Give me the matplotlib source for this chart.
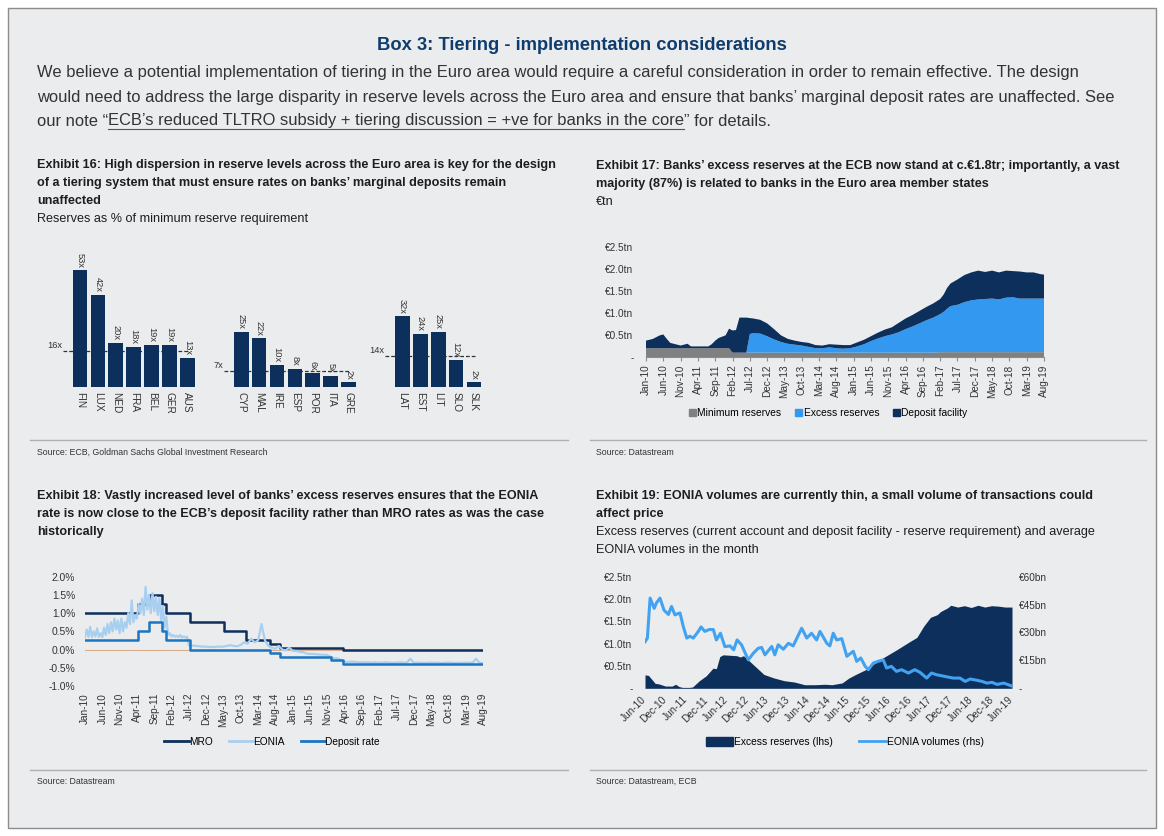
import numpy as np
import matplotlib
matplotlib.use("Agg")
import matplotlib.pyplot as plt
from matplotlib import font_manager as fm
from matplotlib.patches import Rectangle, Patch
from matplotlib.lines import Line2D

W, H = 1164, 836

# ---------------- data ----------------
ex16_groups = [["FIN", "LUX", "NED", "FRA", "BEL", "GER", "AUS"],
               ["CYP", "MAL", "IRE", "ESP", "POR", "ITA", "GRE"],
               ["LAT", "EST", "LIT", "SLO", "SLK"]]
ex16_values = [[53, 42, 20, 18, 19, 19, 13],
               [25, 22, 10, 8, 6, 5, 2],
               [32, 24, 25, 12, 2]]
ex16_averages = [16, 7, 14]

ex17_dates = ["2010-01", "2010-03", "2010-05", "2010-06", "2010-07", "2010-08", "2010-10", "2010-11",
              "2011-01", "2011-02", "2011-07", "2011-08", "2011-09", "2011-10", "2011-11", "2011-12",
              "2012-01", "2012-02", "2012-03", "2012-04", "2012-06", "2012-07", "2012-08", "2012-10",
              "2012-12", "2013-02", "2013-04", "2013-06", "2013-08", "2013-10", "2013-12", "2014-02",
              "2014-04", "2014-06", "2014-08", "2014-10", "2014-12", "2015-02", "2015-04", "2015-06",
              "2015-08", "2015-10", "2015-12", "2016-02", "2016-04", "2016-06", "2016-08", "2016-10",
              "2016-12", "2017-02", "2017-03", "2017-04", "2017-05", "2017-07", "2017-09", "2017-11",
              "2018-01", "2018-03", "2018-05", "2018-07", "2018-09", "2018-11", "2019-01", "2019-03",
              "2019-05", "2019-07", "2019-08"]
ex17_min_reserves = [.21, .21, .21, .21, .21, .21, .21, .21,
                     .21, .21, .21, .21, .21, .21, .21, .21,
                     .21, .11, .11, .11, .11, .11, .11, .11,
                     .11, .11, .11, .11, .11, .11, .11, .11,
                     .11, .11, .11, .11, .11, .11, .11, .11,
                     .11, .11, .11, .11, .11, .11, .11, .11,
                     .11, .12, .12, .12, .12, .12, .12, .12,
                     .12, .12, .12, .12, .12, .12, .12, .12,
                     .12, .12, .12]
ex17_excess = [0, 0, 0, 0, 0, 0, 0, 0,
               0, 0, 0, 0, 0, 0, 0, 0,
               0, 0, 0, 0, 0, .42, .44, .43,
               .37, .30, .24, .20, .18, .16, .13, .10,
               .10, .12, .10, .09, .10, .14, .19, .26,
               .32, .37, .41, .46, .53, .59, .66, .73,
               .79, .86, .91, .98, 1.04, 1.07, 1.13, 1.17,
               1.19, 1.20, 1.21, 1.19, 1.23, 1.24, 1.21, 1.21,
               1.21, 1.21, 1.21]
ex17_deposit = [.17, .21, .29, .31, .21, .12, .08, .06,
                .10, .04, .04, .09, .17, .23, .26, .29,
                .44, .50, .51, .79, .79, .36, .33, .31,
                .29, .23, .15, .11, .09, .08, .09, .07,
                .06, .07, .08, .08, .07, .09, .10, .11,
                .13, .15, .16, .21, .24, .26, .28, .30,
                .32, .34, .39, .47, .51, .57, .61, .63,
                .65, .61, .63, .61, .61, .59, .61, .59,
                .59, .55, .54]
ex17_xlabels = ["Jan-10", "Jun-10", "Nov-10", "Apr-11", "Sep-11", "Feb-12", "Jul-12", "Dec-12",
                "May-13", "Oct-13", "Mar-14", "Aug-14", "Jan-15", "Jun-15", "Nov-15", "Apr-16",
                "Sep-16", "Feb-17", "Jul-17", "Dec-17", "May-18", "Oct-18", "Mar-19", "Aug-19"]

# Exhibit 18: policy rates (step changes, months since Jan-10) and EONIA
mro_month = [0, 15.4, 18.4, 22.3, 23.5, 30.4, 40.3, 46.4, 53.4, 56.3, 74.5, 115]
mro_rate = [1.0, 1.25, 1.5, 1.25, 1.0, 0.75, 0.5, 0.25, 0.15, 0.05, 0.0, 0.0]
depo_month = [0, 15.4, 18.4, 22.3, 23.5, 30.4, 53.4, 56.3, 71.2, 74.5, 115]
depo_rate = [0.25, 0.5, 0.75, 0.5, 0.25, 0.0, -0.1, -0.2, -0.3, -0.4, -0.4]
eonia_early = [0.34, 0.55, 0.35, 0.62, 0.34, 0.50, 0.36, 0.58, 0.35, 0.45, 0.34, 0.60, 0.40, 0.70,
               0.45, 0.75, 0.50, 0.85, 0.55, 0.80, 0.45, 0.85, 0.50, 0.75,
               0.60, 1.00, 0.70, 1.35, 0.75, 0.95,
               0.85, 1.25, 1.00, 1.40, 0.95, 1.72,
               1.10, 1.50, 1.00, 1.55, 1.05, 1.45, 0.95, 1.40,
               0.80, 1.20, 0.60, 0.90,
               0.40, 0.45, 0.36, 0.40, 0.35, 0.38, 0.34, 0.40, 0.33, 0.36, 0.33, 0.35]
eonia_late = [0.12, 0.11, 0.10, 0.09, 0.08, 0.08, 0.07, 0.07, 0.08, 0.08,
              0.08, 0.10, 0.12, 0.10, 0.09, 0.13, 0.20, 0.16, 0.30, 0.20,
              0.25, 0.70, 0.25, 0.10, 0.05, 0.02, 0.10, 0.00, -0.02, 0.05,
              -0.03, -0.04, -0.06, -0.07, -0.11, -0.12, -0.12, -0.13, -0.14, -0.14,
              -0.15, -0.20, -0.24, -0.24, -0.29, -0.34, -0.34, -0.33, -0.34, -0.35,
              -0.35, -0.35, -0.35, -0.36, -0.35, -0.36, -0.36, -0.35, -0.36, -0.36,
              -0.36, -0.35, -0.36, -0.36, -0.25, -0.36, -0.36, -0.36, -0.37, -0.36,
              -0.36, -0.36, -0.36, -0.37, -0.36, -0.36, -0.36, -0.37, -0.36, -0.37,
              -0.36, -0.36, -0.36, -0.25, -0.37, -0.37]

# Exhibit 19
ex19_dates = ["2010-06", "2010-07", "2010-09", "2010-10", "2010-12", "2011-02", "2011-03", "2011-04",
              "2011-05", "2011-07", "2011-08", "2011-10", "2011-12", "2012-02", "2012-03", "2012-04",
              "2012-05", "2012-07", "2012-09", "2012-10", "2012-11", "2012-12", "2013-03", "2013-05",
              "2013-08", "2013-11", "2014-02", "2014-05", "2014-08", "2014-11", "2015-01", "2015-04",
              "2015-06", "2015-08", "2015-11", "2016-01", "2016-03", "2016-04", "2016-08", "2016-12",
              "2017-02", "2017-04", "2017-06", "2017-08", "2017-09", "2017-11", "2017-12", "2018-02",
              "2018-04", "2018-06", "2018-08", "2018-10", "2018-12", "2019-02", "2019-04", "2019-06"]
ex19_excess = [.30, .29, .11, .10, .05, .05, .09, .04,
               .02, .02, .03, .17, .28, .45, .44, .71,
               .75, .74, .73, .70, .73, .66, .45, .31,
               .23, .17, .14, .08, .08, .09, .08, .12,
               .23, .31, .42, .53, .62, .68, .86, 1.05,
               1.14, 1.39, 1.59, 1.65, 1.72, 1.80, 1.86, 1.82,
               1.85, 1.81, 1.86, 1.82, 1.85, 1.84, 1.82, 1.82]
# EONIA volumes, months since Jun-10, EUR bn
vol_month = [0, 0.7, 1.5, 2.7, 3.4, 4.4, 5.6, 6.9, 7.8, 8.8, 10.3, 11.3, 12.3, 13.2, 14.2, 15.7,
             16.5, 17.6, 18.9, 20.1, 21, 22.2, 23.5, 25, 26.1, 27.1, 28.4, 30.4, 31.9, 33.3, 34.3,
             35.3, 37.3, 38.2, 39.2, 40.7, 42.2, 43.6, 46.1, 47.6, 49, 50.5, 51.5, 53.5, 54.4, 55.4,
             56.4, 57.9, 59.4, 61.3, 62.3, 63.5, 64.8, 65.7, 67.2, 68.6, 70.1, 71.1, 72.5, 74, 75.5,
             77.5, 79.4, 80.9, 82.9, 84.3, 85.8, 88.2, 90.7, 92.7, 94.2, 95.7, 97.7, 99.2, 100.6,
             102.1, 103.6, 105.6, 108]
vol_bn = [25, 27, 48.5, 43, 46, 48.5, 42, 39.7, 44, 39.5, 40.5, 33, 27, 28, 27, 30.6,
          33, 30.6, 31.6, 31.6, 26, 29.6, 22.4, 22.8, 20.7, 26, 23.4, 15.3, 18.9, 21.5, 22,
          18, 22.5, 18, 23.4, 21, 24.2, 22.8, 32.3, 27, 29.6, 26, 30.6, 24.2, 22.8, 29.6,
          26, 26.7, 17.2, 19.9, 14.5, 16.3, 11.8, 10, 13.6, 14.5, 15.3, 10.9, 11.8, 9.1, 10,
          8.2, 10, 8.6, 5.5, 8.2, 7.3, 6.4, 5.5, 5.5, 3.7, 5, 4.3, 3.7, 2.8,
          3.2, 2.1, 2.8, 1.2]
ex19_xlabels = ["Jun-10", "Dec-10", "Jun-11", "Dec-11", "Jun-12", "Dec-12", "Jun-13", "Dec-13",
                "Jun-14", "Dec-14", "Jun-15", "Dec-15", "Jun-16", "Dec-16", "Jun-17", "Dec-17",
                "Jun-18", "Dec-18", "Jun-19"]

# ---------------- styling ----------------
NAVY = "#0c2f5c"
LIGHT = "#3399f0"
GRAY = "#808080"
EONIA_C = "#a9cff0"
DEPO_C = "#1b75c0"
VOL_C = "#42a2f2"
BG = "#ebecee"
TXT = "#333333"

names = {f.name for f in fm.fontManager.ttflist}
SANS = "Liberation Sans" if "Liberation Sans" in names else "DejaVu Sans"
NARROW = "Liberation Sans Narrow" if "Liberation Sans Narrow" in names else SANS
plt.rcParams["font.family"] = [SANS, "DejaVu Sans"]


def month_idx(s):
    y, m = s.split("-")
    return (int(y) - 2010) * 12 + int(m) - 1


def add_ax(l, t, r, b):
    return fig.add_axes([l / W, 1 - b / H, (r - l) / W, (b - t) / H])


def ftext(x, y, s, **kw):
    kw.setdefault("va", "center")
    return fig.text(x / W, 1 - y / H, s, **kw)


def fit(t, width):
    w = t.get_window_extent(renderer).width
    t.set_fontsize(round(t.get_fontsize() * width / w, 1))
    return t.get_fontsize()


def clean(ax):
    for s in ax.spines.values():
        s.set_visible(False)
    ax.set_facecolor("none")


fig = plt.figure(figsize=(W / 100, H / 100), dpi=100)
fig.patch.set_facecolor("white")
renderer = fig.canvas.get_renderer()
fig.patches.append(Rectangle((8 / W, 1 - 828 / H), 1148 / W, 820 / H, transform=fig.transFigure,
                             fc=BG, ec="#8c8c8c", lw=1.0, zorder=-5))

# header
t = ftext(582, 45, "Box 3: Tiering - implementation considerations", ha="center",
          family=NARROW, weight="bold", color="#0f3c6e", fontsize=14)
fit(t, 410)
p1 = ftext(37, 73, "We believe a potential implementation of tiering in the Euro area would require a careful "
           "consideration in order to remain effective. The design", color=TXT, fontsize=10)
p2 = ftext(37, 97.5, "would need to address the large disparity in reserve levels across the Euro area and ensure "
           "that banks\u2019 marginal deposit rates are unaffected. See", color=TXT, fontsize=10)
fs = fit(p2, 1076)
p1.set_fontsize(fs)
x0 = 37
q1 = ftext(x0, 121, "our note \u201c", color=TXT, fontsize=fs)
x0 += q1.get_window_extent(renderer).width
q2 = ftext(x0, 121, "ECB\u2019s reduced TLTRO subsidy + tiering discussion = +ve for banks in the core",
           color=TXT, fontsize=fs)
w2 = q2.get_window_extent(renderer).width
fig.add_artist(Line2D([x0 / W, (x0 + w2) / W], [1 - 129 / H] * 2, transform=fig.transFigure,
                      color="#555555", lw=0.8))
ftext(x0 + w2, 121, "\u201d for details.", color=TXT, fontsize=fs)

# separators
for ys in (440, 770):
    for xa, xb in ((30, 568), (590, 1146)):
        fig.add_artist(Line2D([xa / W, xb / W], [1 - ys / H] * 2, transform=fig.transFigure,
                              color="#b0b0b0", lw=1.0))


def exhibit_title(x, y, lines, n_bold, width):
    objs = []
    for i, s in enumerate(lines):
        objs.append(ftext(x, y + 18 * i, s, family=NARROW, color="#1e1e1e", fontsize=10,
                          weight="bold" if i < n_bold else "normal"))
    f = fit(objs[0], width)
    for o in objs[1:]:
        o.set_fontsize(f)


exhibit_title(37, 165, ["Exhibit 16: High dispersion in reserve levels across the Euro area is key for the design",
                        "of a tiering system that must ensure rates on banks\u2019 marginal deposits remain",
                        "unaffected", "Reserves as % of minimum reserve requirement"], 3, 521)
exhibit_title(596, 166, ["Exhibit 17: Banks\u2019 excess reserves at the ECB now stand at c.\u20ac1.8tr; importantly, a vast",
                         "majority (87%) is related to banks in the Euro area member states", "\u20actn"], 2, 522)
exhibit_title(37, 496, ["Exhibit 18: Vastly increased level of banks\u2019 excess reserves ensures that the EONIA",
                        "rate is now close to the ECB\u2019s deposit facility rather than MRO rates as was the case",
                        "historically"], 3, 501)
exhibit_title(596, 496, ["Exhibit 19: EONIA volumes are currently thin, a small volume of transactions could",
                         "affect price",
                         "Excess reserves (current account and deposit facility - reserve requirement) and average",
                         "EONIA volumes in the month"], 2, 498)

for x, y, s in ((37, 452, "Source: ECB, Goldman Sachs Global Investment Research"),
                (596, 452, "Source: Datastream"), (37, 781, "Source: Datastream"),
                (596, 781, "Source: Datastream, ECB")):
    ftext(x, y, s, fontsize=6.3, color=TXT)

# ---------------- Exhibit 16 ----------------
ax = add_ax(60, 245, 500, 386.5)
clean(ax)
pos_all, lab_all = [], []
start = 0
for grp, vals, avg in zip(ex16_groups, ex16_values, ex16_averages):
    pos = np.arange(start, start + len(grp))
    ax.bar(pos, vals, width=0.82, color=NAVY, zorder=2)
    for p, v in zip(pos, vals):
        ax.annotate(f"{v}x", (p, v), xytext=(0, 2), textcoords="offset points", rotation=-90,
                    ha="center", va="bottom", fontsize=6.7, color=TXT)
    ax.plot([pos[0] - 0.95, pos[-1] + 0.1], [avg, avg], ls=(0, (3, 1.6)), color="#333333", lw=0.9, zorder=1)
    ax.annotate(f"{avg}x", (pos[0] - 1.0, avg), xytext=(0, 4), textcoords="offset points",
                ha="right", va="center", fontsize=6.7, color=TXT)
    pos_all += list(pos)
    lab_all += grp
    start += len(grp) + 2
ax.set_xlim(-(80 - 60) / 17.9, 22 + (500 - 474) / 17.9)
ax.set_ylim(0, (386.5 - 245) / 2.189)
ax.set_xticks(pos_all)
ax.set_xticklabels(lab_all, rotation=-90, fontsize=7.2, color=TXT)
ax.tick_params(axis="x", length=0, pad=4)
ax.set_yticks([])

# ---------------- Exhibit 17 ----------------
ax = add_ax(646, 246.7, 1044, 357.5)
clean(ax)
x17 = [month_idx(d) for d in ex17_dates]
ax.stackplot(x17, ex17_min_reserves, ex17_excess, ex17_deposit, colors=[GRAY, LIGHT, NAVY], lw=0)
ax.set_xlim(0, 115)
ax.set_ylim(0, 2.5)
ax.set_yticks([0, 0.5, 1.0, 1.5, 2.0, 2.5])
ax.set_yticklabels(["-", "\u20ac0.5tn", "\u20ac1.0tn", "\u20ac1.5tn", "\u20ac2.0tn", "\u20ac2.5tn"],
                   fontsize=7.2, color=TXT)
ax.set_xticks(range(0, 116, 5))
ax.set_xticklabels(ex17_xlabels, rotation=90, fontsize=7.2, color=TXT)
ax.tick_params(axis="y", length=0, pad=9)
ax.tick_params(axis="x", length=3, color="#8c8c8c", pad=2)
ax.spines["bottom"].set_visible(True)
ax.spines["bottom"].set_color("#8c8c8c")
fig.legend(handles=[Patch(color=GRAY, label="Minimum reserves"), Patch(color=LIGHT, label="Excess reserves"),
                    Patch(color=NAVY, label="Deposit facility")],
           loc="center", bbox_to_anchor=(828 / W, 1 - 413 / H), ncol=3, frameon=False, fontsize=7.4,
           handlelength=0.7, handleheight=0.7, handletextpad=0.15, columnspacing=1.3)

# ---------------- Exhibit 18 ----------------
ax = add_ax(85, 576.7, 483, 686)
clean(ax)
eonia_x = list(np.arange(0, 30, 0.5)) + list(range(30, 116))
eonia_v = eonia_early + eonia_late
ax.axhline(0, color="#dcae8c", lw=0.8, zorder=1)
ax.step(mro_month, mro_rate, where="post", color=NAVY, lw=1.8, zorder=2)
ax.plot(eonia_x, eonia_v, color=EONIA_C, lw=1.6, zorder=3)
ax.step(depo_month, depo_rate, where="post", color=DEPO_C, lw=1.8, zorder=4)
ax.set_xlim(0, 115)
ax.set_ylim(-1, 2)
ax.set_yticks([-1, -0.5, 0, 0.5, 1.0, 1.5, 2.0])
ax.set_yticklabels(["-1.0%", "-0.5%", "0.0%", "0.5%", "1.0%", "1.5%", "2.0%"], fontsize=7.4, color=TXT)
ax.set_xticks(range(0, 116, 5))
ax.set_xticklabels(ex17_xlabels, rotation=90, fontsize=7.2, color=TXT)
ax.tick_params(axis="y", length=0, pad=7)
ax.tick_params(axis="x", length=0, pad=5)
fig.legend(handles=[Line2D([], [], color=NAVY, lw=2, label="MRO"),
                    Line2D([], [], color=EONIA_C, lw=2, label="EONIA"),
                    Line2D([], [], color=DEPO_C, lw=2, label="Deposit rate")],
           loc="center", bbox_to_anchor=(272 / W, 1 - 742 / H), ncol=3, frameon=False, fontsize=7.3,
           handlelength=2.4, handletextpad=0.0, columnspacing=1.6)

# ---------------- Exhibit 19 ----------------
ax = add_ax(645, 576.7, 1012, 688.3)
clean(ax)
x19 = [month_idx(d) for d in ex19_dates]
ax.fill_between(x19, 0, ex19_excess, color=NAVY, lw=0, zorder=1)
ax.set_xlim(5, 113)
ax.set_ylim(0, 2.5)
ax.set_yticks([0, 0.5, 1.0, 1.5, 2.0, 2.5])
ax.set_yticklabels(["-", "\u20ac0.5tn", "\u20ac1.0tn", "\u20ac1.5tn", "\u20ac2.0tn", "\u20ac2.5tn"],
                   fontsize=7.2, color=TXT)
ax.set_xticks(range(5, 114, 6))
ax.set_xticklabels(ex19_xlabels, rotation=45, ha="right", va="center", rotation_mode="anchor",
                   fontsize=7.2, color=TXT)
ax.tick_params(axis="y", length=0, pad=9)
ax.tick_params(axis="x", length=0, pad=7)
ax2 = ax.twinx()
clean(ax2)
ax2.set_ylim(0, 60)
ax2.set_yticks([0, 15, 30, 45, 60])
ax2.set_yticklabels(["-", "\u20ac15bn", "\u20ac30bn", "\u20ac45bn", "\u20ac60bn"], fontsize=7.2, color=TXT)
ax2.tick_params(axis="y", length=0, pad=5)
# volumes drawn in the main axes but on the right-hand scale, so they sit above the area
ax.plot([5 + m for m in vol_month], vol_bn, color=VOL_C, lw=2.2, zorder=5, transform=ax2.transData)
fig.legend(handles=[Patch(color=NAVY, label="Excess reserves (lhs)"),
                    Line2D([], [], color=VOL_C, lw=2, label="EONIA volumes (rhs)")],
           loc="center", bbox_to_anchor=(845 / W, 1 - 742 / H), ncol=2, frameon=False, fontsize=7.4,
           handlelength=2.6, handleheight=0.9, handletextpad=0.1, columnspacing=2.5)

fig.savefig("out.png", dpi=100, facecolor=fig.get_facecolor())
